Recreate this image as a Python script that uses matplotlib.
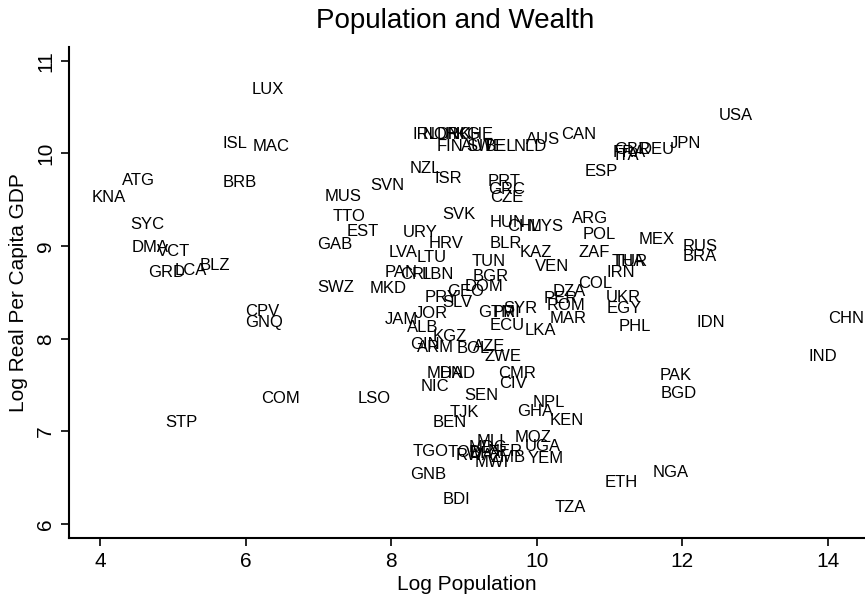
import matplotlib
matplotlib.use("Agg")
import matplotlib.pyplot as plt

plt.rcParams["font.family"] = ["Liberation Sans", "DejaVu Sans"]

# label anchor = left edge of each country code (Stata mlabel, no marker)
codes = [
    "LUX", "ISL", "MAC", "ATG", "BRB", "KNA", "SYC", "DMA", "VCT", "GRD",
    "LCA", "BLZ", "CPV", "GNQ", "COM", "STP", "LSO",
    "MUS", "SVN", "NZL", "ISR", "IRL", "NOR", "DNK", "HKG", "CHE",
    "FIN", "AUT", "SWE", "BEL", "NLD", "AUS", "CAN",
    "TTO", "EST", "GAB", "URY", "HRV", "LVA", "SVK", "PRT", "GRC", "CZE",
    "ESP", "HUN", "CHL", "MYS", "ARG", "POL", "BLR", "KAZ", "ZAF",
    "USA", "JPN", "FRA", "GBR", "ITA", "DEU", "MEX", "RUS", "BRA", "THA",
    "TUR", "IRN", "UKR", "EGY", "PHL", "IDN", "CHN", "IND", "PAK", "BGD",
    "NGA", "ETH", "COL",
    "SWZ", "MKD", "LTU", "PAN", "CRI", "LBN", "PRY", "JAM", "JOR", "ALB",
    "KGZ", "GIN", "ARM", "MDA", "HND", "NIC", "TUN", "VEN", "BGR", "DOM",
    "GEO", "SLV", "DZA", "PER", "ROM", "MAR", "SYR", "GTM", "PRI", "ECU",
    "LKA", "BOL", "AZE", "ZWE", "CMR", "CIV", "SEN", "BEN", "TJK", "GHA",
    "NPL", "KEN", "MOZ", "UGA", "TGO", "MWI", "YEM", "GNB", "BDI", "TZA",
    "TCD", "RWA", "MDG", "MLI", "BFA", "NER", "ZMB",
]

log_pop = [
    6.09, 5.68, 6.10, 4.30, 5.68, 3.89, 4.41, 4.44, 4.78, 4.66,
    5.03, 5.37, 5.99, 5.99, 6.21, 4.89, 7.54,
    7.09, 7.71, 8.26, 8.60, 8.29, 8.44, 8.63, 8.74, 8.92,
    8.63, 8.96, 9.03, 9.29, 9.69, 9.85, 10.33,
    7.20, 7.39, 6.98, 8.16, 8.51, 7.96, 8.70, 9.32, 9.33, 9.36,
    10.66, 9.36, 9.60, 9.88, 10.48, 10.63, 9.36, 9.77, 10.57,
    12.50, 11.83, 11.05, 11.06, 11.07, 11.42, 11.40, 12.00, 12.00, 11.03,
    11.06, 10.96, 10.95, 10.96, 11.13, 12.19, 14.00, 13.73, 11.69, 11.71,
    11.60, 10.94, 10.57,
    6.99, 7.71, 8.35, 7.91, 8.12, 8.42, 8.46, 7.91, 8.33, 8.22,
    8.57, 8.26, 8.35, 8.49, 8.67, 8.40, 9.11, 9.98, 9.12, 9.01,
    8.77, 8.71, 10.22, 10.09, 10.14, 10.18, 9.54, 9.19, 9.40, 9.36,
    9.84, 8.90, 9.12, 9.29, 9.47, 9.49, 9.01, 8.57, 8.81, 9.73,
    9.95, 10.18, 9.70, 9.84, 8.29, 9.15, 9.88, 8.26, 8.71, 10.25,
    8.78, 8.88, 9.06, 9.18, 9.08, 9.32, 9.36,
]

log_gdp = [
    10.69, 10.11, 10.07, 9.71, 9.69, 9.52, 9.23, 8.98, 8.94, 8.72,
    8.74, 8.79, 8.29, 8.18, 7.36, 7.10, 7.36,
    9.54, 9.65, 9.84, 9.73, 10.20, 10.20, 10.20, 10.20, 10.20,
    10.07, 10.07, 10.07, 10.07, 10.08, 10.15, 10.20,
    9.32, 9.16, 9.02, 9.15, 9.03, 8.93, 9.34, 9.70, 9.61, 9.53,
    9.80, 9.25, 9.21, 9.21, 9.30, 9.13, 9.03, 8.93, 8.93,
    10.41, 10.11, 10.01, 10.04, 9.98, 10.04, 9.07, 9.00, 8.89, 8.83,
    8.83, 8.71, 8.45, 8.33, 8.13, 8.18, 8.22, 7.81, 7.60, 7.41,
    6.56, 6.45, 8.60,
    8.55, 8.54, 8.88, 8.71, 8.69, 8.69, 8.45, 8.21, 8.27, 8.12,
    8.02, 7.94, 7.91, 7.63, 7.63, 7.48, 8.83, 8.78, 8.67, 8.56,
    8.51, 8.39, 8.51, 8.44, 8.36, 8.22, 8.33, 8.28, 8.28, 8.14,
    8.09, 7.90, 7.92, 7.81, 7.63, 7.52, 7.39, 7.10, 7.20, 7.21,
    7.31, 7.12, 6.94, 6.84, 6.78, 6.67, 6.71, 6.53, 6.27, 6.18,
    6.77, 6.74, 6.83, 6.89, 6.76, 6.78, 6.72,
]

x_ticks = [4, 6, 8, 10, 12, 14]
y_ticks = [6, 7, 8, 9, 10, 11]

fig = plt.figure(figsize=(8.65, 5.96), dpi=100)
ax = fig.add_axes([0.0798, 0.0973, 0.920, 0.824])

for code, xv, yv in zip(codes, log_pop, log_gdp):
    ax.text(xv, yv, code, ha="left", va="center", fontsize=12, color="black")

ax.set_xlim(3.574, 14.51)
ax.set_ylim(5.85, 11.15)
ax.set_xticks(x_ticks)
ax.set_yticks(y_ticks)
ax.tick_params(axis="both", direction="out", length=6, width=1.2, labelsize=15, pad=4)
ax.tick_params(axis="y", labelrotation=90)
for lab in ax.get_yticklabels():
    lab.set_va("center")
for side in ["top", "right"]:
    ax.spines[side].set_visible(False)
for side in ["left", "bottom"]:
    ax.spines[side].set_linewidth(1.5)

ax.set_xlabel("Log Population", fontsize=15, labelpad=3)
ax.set_ylabel("Log Real Per Capita GDP", fontsize=15, labelpad=6)
fig.text(0.526, 0.965, "Population and Wealth", ha="center", va="center", fontsize=20)

fig.savefig("out.png", dpi=100)
